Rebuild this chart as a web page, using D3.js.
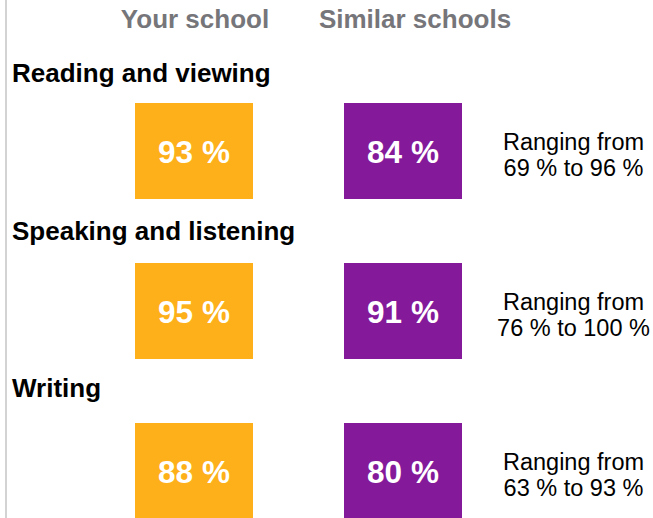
<!DOCTYPE html>
<html><head><meta charset="utf-8">
<script src="https://cdn.jsdelivr.net/npm/d3@7"></script>
<style>html,body{margin:0;padding:0;background:#fff;overflow:hidden}</style>
</head><body>
<svg id="chart" width="653" height="518"></svg>
<script>
const categories = ["Reading and viewing", "Speaking and listening", "Writing"];
const series = ["Your school", "Similar schools"];
const yourSchool = [93, 95, 88];
const similarSchools = [84, 91, 80];
const rangeMin = [69, 76, 63];
const rangeMax = [96, 100, 93];

const svg = d3.select("#chart");
const font = "'Liberation Sans', Arial, Helvetica, sans-serif";

// left border
svg.append("rect").attr("x", 5).attr("y", 0).attr("width", 2).attr("height", 518).attr("fill", "#d3d3d3");

const boxW = 118, boxH = 96;
const xCenter = d3.scaleOrdinal().domain(series).range([194, 403]);
const hdrX = d3.scaleOrdinal().domain(series).range([195, 415]);
const rowY = d3.scaleBand().domain(categories).range([103, 583]); // step 160
const titleY = d3.scalePoint().domain(categories).range([82, 397]);
const colors = d3.scaleOrdinal().domain(series).range(["#FDB019", "#841A9A"]);

// headers
svg.selectAll("text.hdr").data(series).enter().append("text")
  .attr("class", "hdr")
  .attr("x", d => hdrX(d))
  .attr("y", 28)
  .attr("text-anchor", "middle")
  .attr("font-family", font).attr("font-weight", "bold").attr("font-size", 26)
  .attr("fill", "#76767a")
  .text(d => d);

const rows = categories.map((c, i) => ({
  cat: c, vals: [yourSchool[i], similarSchools[i]], min: rangeMin[i], max: rangeMax[i]
}));

const g = svg.selectAll("g.row").data(rows).enter().append("g").attr("class", "row");

g.append("text")
  .attr("x", 12).attr("y", d => titleY(d.cat))
  .attr("font-family", font).attr("font-weight", "bold").attr("font-size", 26)
  .attr("fill", "#000").text(d => d.cat);

g.each(function (d) {
  const gg = d3.select(this);
  const top = rowY(d.cat);
  series.forEach((s, j) => {
    const cx = xCenter(s);
    gg.append("rect").attr("x", cx - boxW / 2).attr("y", top).attr("width", boxW).attr("height", boxH)
      .attr("fill", colors(s));
    gg.append("text").attr("x", cx).attr("y", top + 60)
      .attr("text-anchor", "middle")
      .attr("font-family", font).attr("font-weight", "bold").attr("font-size", 31.5)
      .attr("fill", "#fff").text(d.vals[j] + " %");
  });
  gg.append("text").attr("x", 573.5).attr("y", top + 46.5)
    .attr("text-anchor", "middle").attr("font-family", font).attr("font-size", 23.5)
    .attr("fill", "#000").text("Ranging from");
  gg.append("text").attr("x", 573.5).attr("y", top + 72.5)
    .attr("text-anchor", "middle").attr("font-family", font).attr("font-size", 23.5)
    .attr("fill", "#000").text(d.min + " % to " + d.max + " %");
});
</script>
</body></html>
